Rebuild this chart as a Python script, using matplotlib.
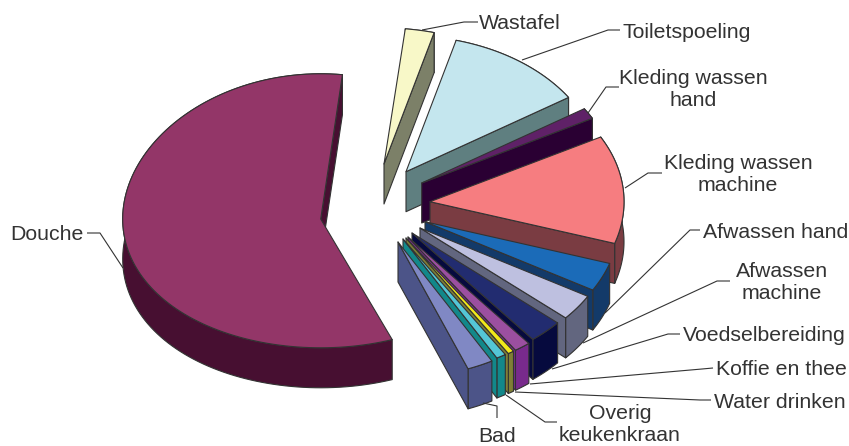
import numpy as np
import matplotlib
matplotlib.use('Agg')
import matplotlib.pyplot as plt

plt.rcParams['font.family'] = ['Liberation Sans', 'DejaVu Sans']

# slices clockwise, starting at Wastafel
names = ['Wastafel', 'Toiletspoeling', 'Kleding wassen\nhand', 'Kleding wassen\nmachine',
         'Afwassen hand', 'Afwassen\nmachine', 'Voedselbereiding', 'Koffie en thee',
         'Water drinken', 'Overig\nkeukenkraan', 'Bad', 'Douche']
shares = [2.4, 11.6, 1.3, 12.8, 3.4, 3.1, 2.8, 1.35, 0.5, 0.8, 2.15, 57.4]

top_colors = ['#F8F8C8', '#C4E6EE', '#5F2167', '#F67D80', '#1B6BB8', '#BEC0E0',
              '#222C70', '#9B4FA0', '#F2E81A', '#54C6D6', '#8088C4', '#933668']
side_colors = ['#7C8068', '#5F7F80', '#2A0033', '#7A3C42', '#133A69', '#62667F',
               '#060A3E', '#782A8C', '#7F7F35', '#12888A', '#4C5488', '#470F31']

# exploded hub of each slice, in axes units (pixels)
hub_x = [384, 406, 421.7, 430, 425, 420, 412, 408, 406, 403, 398, 320.7]
hub_y = [164, 171.7, 183, 201.7, 221.7, 228, 233, 237, 238, 239, 242, 219]

# the big slice is drawn a bit larger and tilted, perspective of the old chart
radius_x = [194] * 11 + [198]
radius_y = [136] * 11 + [137]
tilt = [0.0] * 11 + [0.06]

start_angle = 6.3
depth = 40
edge = '#333333'

# text x, text y, horizontal alignment, leader line
label_layout = [
    (479, 23.5, 'left', [(478, 22), (464, 22), (422, 30)]),
    (623, 32.5, 'left', [(620, 30), (608, 30), (522, 60)]),
    (693, 90, 'center', [(619, 87), (606, 87), (588, 113)]),
    (738, 174.5, 'center', [(662, 173), (648, 173), (625, 188)]),
    (703, 232.5, 'left', [(700, 230), (690, 230), (605, 313)]),
    (782, 282.5, 'center', [(730, 281), (717, 281), (583, 343)]),
    (683, 335.5, 'left', [(680, 334), (668, 334), (552, 369)]),
    (716, 369.5, 'left', [(713, 368), (702, 369), (530, 384)]),
    (714, 402.5, 'left', [(711, 400), (700, 400), (515, 392)]),
    (620, 424.5, 'center', [(557, 422), (545, 422), (506, 395)]),
    (497, 437, 'center', [(497, 418), (497, 406), (483, 403)]),
    (10, 234.5, 'left', [(87, 233), (100, 233), (123, 268)]),
]


def ring(i, theta):
    # clockwise degrees from the top, to pixels on the tilted disc
    u = np.sin(np.radians(theta))
    v = np.cos(np.radians(theta))
    return hub_x[i] + radius_x[i] * u, hub_y[i] - radius_y[i] * v * (1 + tilt[i] * v)


fig = plt.figure(figsize=(8.49, 4.46), dpi=100)
ax = fig.add_axes([0, 0, 1, 1])
ax.set_xlim(0, 849)
ax.set_ylim(446, 0)
ax.axis('off')

edges = start_angle + 360 * np.cumsum([0] + shares) / sum(shares)

for i in range(len(names)):
    cx, cy = hub_x[i], hub_y[i]
    theta = np.linspace(edges[i], edges[i + 1], 120)
    x, y = ring(i, theta)
    style = dict(facecolor=side_colors[i], edgecolor=edge, linewidth=0.8, joinstyle='round')

    # outer wall, then the cut faces that look towards the viewer, then the top
    ax.fill(np.r_[x, x[::-1]], np.r_[y, y[::-1] + depth], **style)
    if np.sin(np.radians(theta[0])) < 0:
        ax.fill([cx, x[0], x[0], cx], [cy, y[0], y[0] + depth, cy + depth], **style)
    if np.sin(np.radians(theta[-1])) > 0:
        ax.fill([cx, x[-1], x[-1], cx], [cy, y[-1], y[-1] + depth, cy + depth], **style)
    ax.fill(np.r_[cx, x], np.r_[cy, y], facecolor=top_colors[i], edgecolor=edge,
            linewidth=0.8, joinstyle='round')

for name, (tx, ty, ha, leader) in zip(names, label_layout):
    lx, ly = zip(*leader)
    ax.plot(lx, ly, color=edge, lw=0.8, solid_capstyle='butt')
    ax.text(tx, ty, name, ha=ha, va='center', fontsize=15.3, color='#333333', linespacing=1.2)

fig.savefig('out.png', dpi=100)
